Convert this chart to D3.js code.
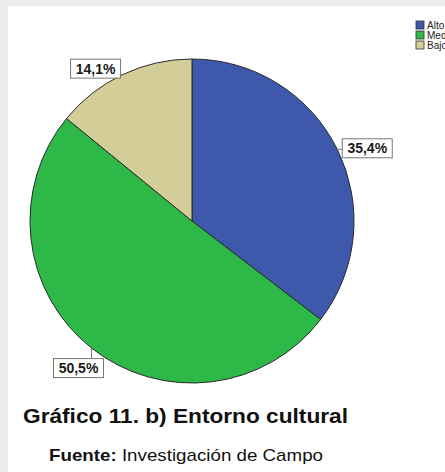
<!DOCTYPE html>
<html>
<head>
<meta charset="utf-8">
<script src="https://cdn.jsdelivr.net/npm/d3@7"></script>
<style>
  body { margin: 0; background: #ededed; }
  svg { display: block; }
</style>
</head>
<body>
<div class="chart"></div>
<script>
// Chart data
let categories = ["Alto", "Medio", "Bajo"];
let values = [35.4, 50.5, 14.1];
let valueLabels = ["35,4%", "50,5%", "14,1%"];
let colors = ["#3e58ac", "#2eb848", "#d3ce97"];

let svgWidth = 445;
let svgHeight = 472;

let cx = 192;
let cy = 221;
let radius = 162;

// label box offsets from the slice edge at its middle angle
let labelShift = [[30, -1], [-13, 20], [-27, -6]];

let svg = d3.select(".chart")
    .append("svg")
    .attr("width", svgWidth)
    .attr("height", svgHeight);

// grey page behind, white panel
svg.append("rect")
    .attr("width", svgWidth)
    .attr("height", svgHeight)
    .attr("fill", "#ececec");

svg.append("rect")
    .attr("x", 8)
    .attr("y", 6)
    .attr("width", svgWidth - 8)
    .attr("height", svgHeight - 6)
    .attr("fill", "#ffffff");

let pie = d3.pie()
    .sort(null)
    .value(d => d);

let arc = d3.arc()
    .innerRadius(0)
    .outerRadius(radius);

let arcs = pie(values);

let pieGroup = svg.append("g")
    .attr("transform", `translate(${cx}, ${cy})`);

pieGroup.selectAll("path")
    .data(arcs)
    .enter()
    .append("path")
    .attr("d", arc)
    .attr("fill", (d, i) => colors[i])
    .attr("stroke", "#2a2a2a")
    .attr("stroke-width", 1);

// Labels
let boxW = 50;
let boxH = 19;

arcs.forEach(function(d, i) {
    let mid = (d.startAngle + d.endAngle) / 2;
    let ax = Math.sin(mid) * radius;
    let ay = -Math.cos(mid) * radius;
    let bx = ax + labelShift[i][0];
    let by = ay + labelShift[i][1];

    // nearest point of the box to the anchor
    let px = Math.max(bx - boxW / 2, Math.min(ax, bx + boxW / 2));
    let py = Math.max(by - boxH / 2, Math.min(ay, by + boxH / 2));

    pieGroup.append("line")
        .attr("x1", ax)
        .attr("y1", ay)
        .attr("x2", px)
        .attr("y2", py)
        .attr("stroke", "#777")
        .attr("stroke-width", 1);

    pieGroup.append("rect")
        .attr("x", bx - boxW / 2)
        .attr("y", by - boxH / 2)
        .attr("width", boxW)
        .attr("height", boxH)
        .attr("fill", "#ffffff")
        .attr("stroke", "#777")
        .attr("stroke-width", 1);

    pieGroup.append("text")
        .attr("x", bx)
        .attr("y", by + 5)
        .attr("text-anchor", "middle")
        .attr("font-family", "Liberation Sans, Arial, sans-serif")
        .attr("font-size", "14px")
        .attr("font-weight", "bold")
        .attr("fill", "#1a1a1a")
        .text(valueLabels[i]);
});

// Legend (cut by the right edge, as in the original)
let legend = svg.append("g")
    .attr("transform", "translate(416, 21)");

let legendItems = legend.selectAll("g")
    .data(categories)
    .enter()
    .append("g")
    .attr("transform", (d, i) => `translate(0, ${i * 10})`);

legendItems.append("rect")
    .attr("width", 8)
    .attr("height", 8)
    .attr("fill", (d, i) => colors[i])
    .attr("stroke", "#333")
    .attr("stroke-width", 0.8);

legendItems.append("text")
    .attr("x", 11)
    .attr("y", 8)
    .attr("font-family", "Liberation Sans, Arial, sans-serif")
    .attr("font-size", "10px")
    .attr("fill", "#222")
    .text(d => d);

// Caption
svg.append("text")
    .attr("x", 23)
    .attr("y", 423)
    .attr("font-family", "Liberation Sans, Arial, sans-serif")
    .attr("font-size", "20px")
    .attr("font-weight", "bold")
    .attr("textLength", 325)
    .attr("lengthAdjust", "spacingAndGlyphs")
    .attr("fill", "#111")
    .text("Gráfico 11. b) Entorno cultural");

let source = svg.append("text")
    .attr("x", 49)
    .attr("y", 461)
    .attr("font-family", "Liberation Sans, Arial, sans-serif")
    .attr("font-size", "17px")
    .attr("textLength", 274)
    .attr("lengthAdjust", "spacingAndGlyphs")
    .attr("fill", "#111");

source.append("tspan")
    .attr("font-weight", "bold")
    .text("Fuente:");

source.append("tspan")
    .text(" Investigación de Campo");
</script>
</body>
</html>
